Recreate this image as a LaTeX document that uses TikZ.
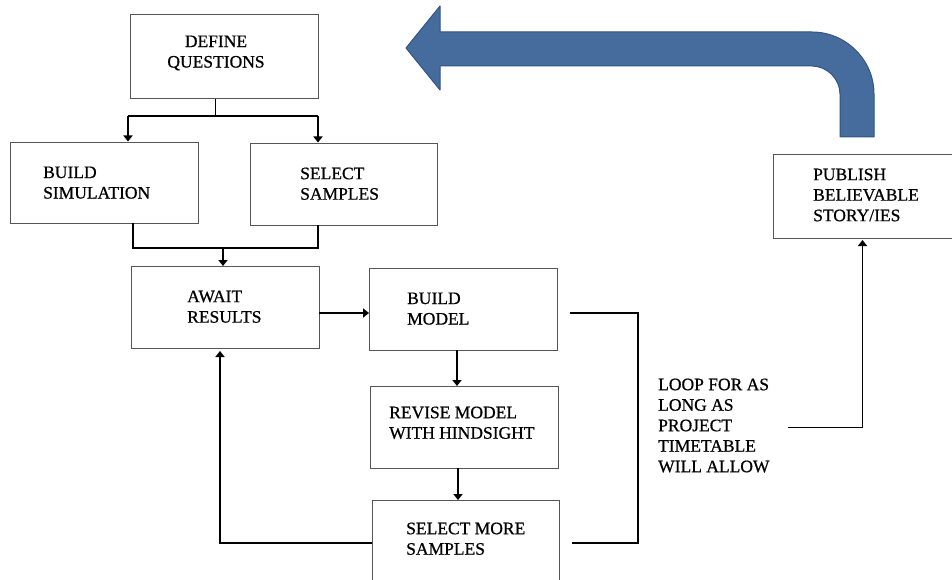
\documentclass[tikz,border=0pt]{standalone}
\usepackage{fontspec}
\setmainfont{Liberation Serif}[FakeBold=0.7]
\usetikzlibrary{arrows.meta}
\definecolor{bluefill}{RGB}{70,108,158}
\definecolor{blueedge}{RGB}{50,84,128}
\definecolor{boxedge}{RGB}{85,85,85}
\tikzset{
  box/.style={draw=boxedge,line width=1pt,inner sep=0pt,outer sep=0pt,rectangle},
  txt/.style={inner sep=0pt,anchor=north west,align=left,font=\fontsize{17.5}{20.5}\selectfont},
  conn/.style={line width=1.8pt,-{Triangle[width=9pt,length=6pt]}},
  plainline/.style={line width=1.8pt},
  thinline/.style={line width=1pt},
  bracket/.style={line width=2.8pt},
}
\begin{document}
\begin{tikzpicture}[x=1pt,y=-1pt]
\useasboundingbox[fill=white] (0,0) rectangle (952,580);

% boxes
\node[box,minimum width=188pt,minimum height=84pt] (dq) at (224,57) {};
\node[box,minimum width=188pt,minimum height=80pt] (bs) at (104,183) {};
\node[box,minimum width=187pt,minimum height=81pt] (ss) at (343.5,184.5) {};
\node[box,minimum width=188pt,minimum height=82pt] (ar) at (225,307) {};
\node[box,minimum width=188pt,minimum height=82pt] (bm) at (463,309) {};
\node[box,minimum width=188pt,minimum height=82pt] (rm) at (464,427) {};
\node[box,minimum width=187pt,minimum height=84pt] (sm) at (465.5,542) {};
\node[box,minimum width=183pt,minimum height=83pt] (pb) at (864.5,196.5) {};

% texts
\node[txt,anchor=north,align=center] (tdq) at (216,35.4) {DEFINE\\QUESTIONS};
\node[txt] (tbs) at (43,166.4) {BUILD\\SIMULATION};
\node[txt] (tss) at (300,167.4) {SELECT\\SAMPLES};
\node[txt] (tar) at (187,290.4) {AWAIT\\RESULTS};
\node[txt] (tbm) at (407,292.4) {BUILD\\MODEL};
\node[txt] (trm) at (389,406.4) {REVISE MODEL\\WITH HINDSIGHT};
\node[txt] (tsm) at (406,522.4) {SELECT MORE\\SAMPLES};
\node[txt] (tpb) at (813,168.4) {PUBLISH\\BELIEVABLE\\STORY/IES};
\node[txt] (loop) at (658,378.4) {LOOP FOR AS\\LONG AS\\PROJECT\\TIMETABLE\\WILL ALLOW};

% connectors
\coordinate (j1) at (215,116);
\draw[thinline] (dq.south -| j1) -- (j1);
\draw[plainline] ([xshift=24pt]bs.north |- j1) -- ([xshift=-25.5pt]ss.north |- j1);
\draw[conn] ([xshift=24pt]bs.north |- j1) -- ([xshift=24pt,yshift=1.5pt]bs.north);
\draw[conn] ([xshift=-25.5pt]ss.north |- j1) -- ([xshift=-25.5pt,yshift=1.5pt]ss.north);

\coordinate (j2) at (223,248);
\draw[plainline] ([xshift=29pt]bs.south) |- (j2);
\draw[plainline] ([xshift=-25.5pt]ss.south) |- (j2);
\draw[conn] (j2) -- (j2 |- ar.north);

\draw[conn] ([yshift=-6pt]ar.east) -- ([yshift=-6pt]ar.east -| bm.west);
\draw[conn] ([xshift=-6pt]bm.south) -- ([xshift=-6pt]bm.south |- rm.north);
\draw[conn] ([xshift=-6pt]rm.south) -- ([xshift=-6pt]rm.south |- sm.north);
\draw[conn] ([yshift=-1pt]sm.west) -| ([xshift=-5pt,yshift=-3pt]ar.south);

\coordinate (bk) at (638,428);
\draw[bracket] ([xshift=13pt,yshift=-4pt]bm.east) -| (bk) |- ([xshift=13pt,yshift=-1pt]sm.east);

\draw[conn] ([xshift=18pt,yshift=-2pt]loop.east) -| ([xshift=-2pt,yshift=-2pt]pb.south);

% big blue arrow
\draw[fill=bluefill,draw=blueedge,line width=1pt,line join=round]
  (406,48) -- (440,6) -- (440,32) -- (812,32)
  .. controls (846,32) and (874,60) .. (874,94)
  -- (874,137) -- (840,137) -- (840,94)
  .. controls (840,79) and (827,66) .. (812,66)
  -- (440,66) -- (440,90) -- cycle;
\end{tikzpicture}
\end{document}
